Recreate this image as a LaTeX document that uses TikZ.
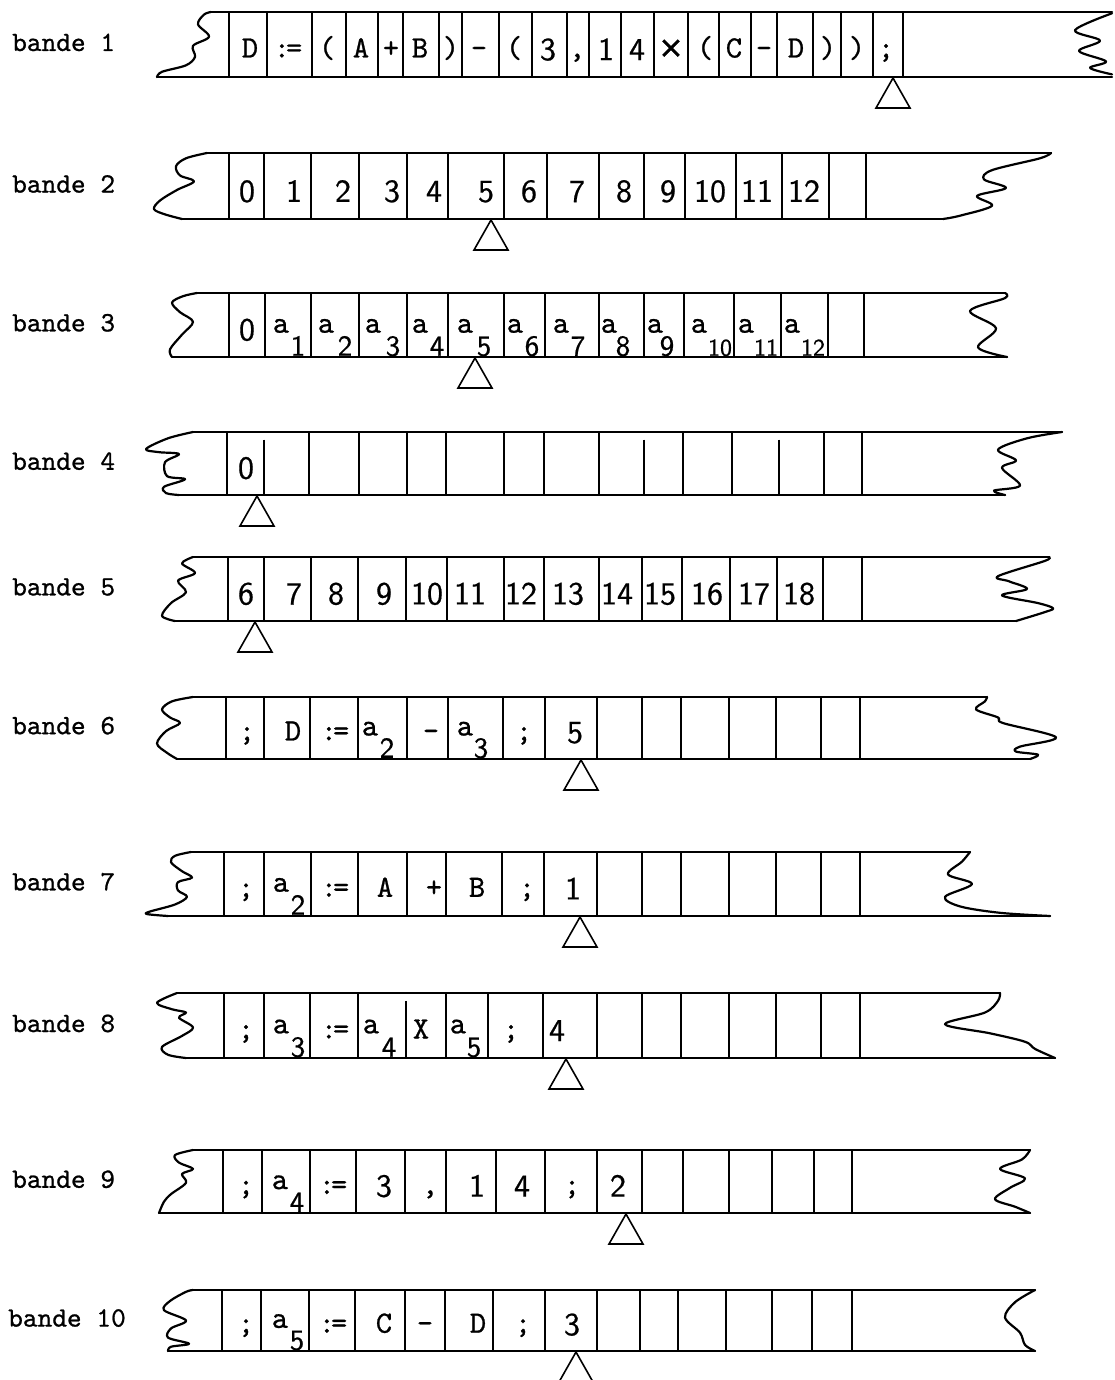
\documentclass[tikz,border=0pt]{standalone}
\usepackage{fontspec}
\setmonofont{lmmono10-regular.otf}[FakeBold=0.8]
\setsansfont{lmsans10-regular.otf}[FakeBold=0.6]
\newfontfamily\crossfont{DejaVu Sans}[FakeBold=1.5]
\newcommand\assign{:\kern-4pt=}
\tikzset{
  tapeline/.style={line width=2.2pt, line cap=round, line join=round},
  cellline/.style={line width=1.7pt},
  ptr/.style={line width=1.6pt, line join=miter},
  lbl/.style={anchor=base west, font=\ttfamily\fontsize{28}{30}\selectfont, inner sep=0pt},
  tt/.style={anchor=base, font=\ttfamily\fontsize{31}{33}\selectfont, inner sep=0pt},
  sf/.style={anchor=base, font=\sffamily\fontsize{32}{34}\selectfont, inner sep=0pt},
  sub/.style={anchor=base, font=\sffamily\fontsize{29}{31}\selectfont, inner sep=0pt},
  subtwo/.style={anchor=base, font=\sffamily\fontsize{24}{26}\selectfont, inner sep=0pt},
}
% tape outline: top start, top end, bottom start, bottom end, left wave, right wave
\newcommand\tapeband[6]{%
  \draw[tapeline] (#1,0) -- (#2,0);
  \draw[tapeline] (#3,1) -- (#4,1);
  \draw[tapeline] plot[smooth, tension=0.55] coordinates {#5};
  \draw[tapeline] plot[smooth, tension=0.55] coordinates {#6};
}
\newcommand\celllines[1]{\foreach \cx in {#1} \draw[cellline] (\cx,0) -- (\cx,1);}
\newcommand\partlines[1]{\foreach \cx in {#1} \draw[cellline] (\cx,0.12) -- (\cx,1);}
\newcommand\ttitems[2]{\foreach \x/\t [count=\i] in {#2} \node[tt] (#1t\i) at (\x,0.7) {\t};}
\newcommand\sfitems[2]{\foreach \x/\t [count=\i] in {#2} \node[sf] (#1d\i) at (\x,0.74) {\t};}
\newcommand\aitems[2]{\foreach \xa/\xs/\n [count=\i] in {#2} {%
  \node[tt] (#1a\i) at (\xa,0.62) {a};
  \node[sub] (#1s\i) at (\xs,0.98) {\n};}}
\newcommand\aitemstwo[2]{\foreach \xa/\xs/\n [count=\i] in {#2} {%
  \node[tt] (#1aa\i) at (\xa,0.62) {a};
  \node[subtwo] (#1ss\i) at (\xs,0.98) {\n};}}
\newcommand\pointer[2]{\draw[ptr] (#1,#2) -- ++(-17,30) -- ++(34,0) -- cycle;}
\begin{document}
\begin{tikzpicture}[x=1pt,y=-1pt]
\useasboundingbox (0,0) rectangle (1114,1380);
\fill[white] (0,0) rectangle (1114,1380);
\clip (0,0) rectangle (1114,1380);

% ---------------- bande 1
\begin{scope}[shift={(0,12)}, y=-65pt]
  \node[lbl] (lab1) at (12,0.6) {bande 1};
  \tapeband{211}{1112}{157}{1112}
    {(211,0) (204,0.04) (198,0.19) (209,0.38) (193,0.52) (195,0.69) (186,0.82) (162,0.92) (157,1)}
    {(1112,0.02) (1075,0.28) (1100,0.44) (1079,0.6) (1106,0.76) (1090,0.86) (1112,0.96)}
  \celllines{229,267,312,346,378,403,439,462,499,532,567,589,621,654,688,719,751,777,813,841,873,903}
  \ttitems{b1}{250/D,288/\assign,327/(,361/A,391/+,420/B,451/),479/-,514/(,577/{,},705/(,734/C,764/-,796/D,828/),857/),886/;}
  \node[anchor=base, inner sep=0pt, font=\crossfont\fontsize{30}{30}\selectfont] (b1x) at (671,0.7) {×};
  \sfitems{b1}{548/3,606/1,637/4}
\end{scope}
\pointer{893}{78}

% ---------------- bande 2
\begin{scope}[shift={(0,153)}, y=-66pt]
  \node[lbl] (lab2) at (12,0.6) {bande 2};
  \tapeband{207}{1051}{182}{943}
    {(207,0) (186,0.08) (176,0.2) (180,0.34) (194,0.43) (177,0.56) (160,0.72) (154,0.85) (165,0.93) (182,1)}
    {(1051,0) (1040,0.08) (992,0.26) (984,0.4) (1006,0.53) (977,0.65) (992,0.8) (960,0.95) (943,1)}
  \celllines{229,264,311,359,407,448,504,547,599,644,685,736,782,829,866}
  \sfitems{b2}{247/0,294/1,343/2,392/3,434/4,486/5,529/6,577/7,624/8,668/9,710/10,757/11,804/12}
\end{scope}
\pointer{491}{220}

% ---------------- bande 3
\begin{scope}[shift={(0,293)}, y=-64pt]
  \node[lbl] (lab3) at (12,0.6) {bande 3};
  \tapeband{197}{1005}{172}{1007}
    {(197,0) (183,0.05) (172,0.15) (180,0.3) (193,0.45) (182,0.65) (170,0.88) (172,1)}
    {(1005,0) (1005,0.08) (970,0.28) (996,0.55) (978,0.85) (1007,1)}
  \celllines{229,265,311,359,407,448,504,545,599,644,684,734,781,828,864}
  \sfitems{b3}{247/0}
  \aitems{b3}{281/298/1,326/345/2,373/393/3,420/437/4,465/484/5,515/532/6,561/578/7,609/623/8,655/667/9}
  \aitemstwo{b3}{699/720/10,746/766/11,792/813/12}
\end{scope}
\pointer{475}{358}

% ---------------- bande 4
\begin{scope}[shift={(0,432)}, y=-63pt]
  \node[lbl] (lab4) at (12,0.6) {bande 4};
  \tapeband{193}{1062}{179}{1005}
    {(193,0) (168,0.1) (146,0.27) (159,0.32) (179,0.35) (165,0.48) (167,0.7) (185,0.75) (164,0.87) (166,0.97) (179,1)}
    {(1062,0) (1027,0.1) (998,0.28) (1016,0.45) (1002,0.57) (1020,0.85) (994,0.93) (1005,1)}
  \celllines{227,309,359,407,446,504,544,599,683,732,824,862}
  \partlines{264,644,779}
  \sfitems{b4}{246/0}
\end{scope}
\pointer{257}{496}

% ---------------- bande 5
\begin{scope}[shift={(0,557)}, y=-64pt]
  \node[lbl] (lab5) at (12,0.6) {bande 5};
  \tapeband{193}{1049}{175}{1016}
    {(193,0) (182,0.1) (195,0.25) (178,0.37) (186,0.55) (171,0.72) (162,0.92) (175,1)}
    {(1049,0) (1045,0.06) (998,0.3) (1009,0.38) (1027,0.5) (1002,0.6) (1038,0.72) (1053,0.8) (1045,0.86) (1016,1)}
  \celllines{228,264,311,358,406,447,504,544,599,642,682,730,777,823,862}
  \sfitems{b5}{246/6,294/7,336/8,384/9,427/10,470/11,521/12,568/13,617/14,660/15,707/16,754/17,799/18}
\end{scope}
\pointer{255}{622}

% ---------------- bande 6
\begin{scope}[shift={(0,697)}, y=-62pt]
  \node[lbl] (lab6) at (12,0.6) {bande 6};
  \tapeband{193}{987}{177}{1030}
    {(193,0) (172,0.07) (162,0.2) (170,0.33) (180,0.42) (166,0.55) (157,0.75) (167,0.9) (177,1)}
    {(987,0) (985,0.07) (976,0.2) (998,0.33) (1003,0.42) (1056,0.65) (1020,0.8) (1016,0.88) (1038,0.93) (1030,1)}
  \celllines{226,264,310,358,407,448,503,545,597,642,681,729,776,821,860}
  \ttitems{b6}{247/;,293/D,335/\assign,431/-,524/;}
  \sfitems{b6}{575/5}
  \aitems{b6}{370/387/2,465/481/3}
\end{scope}
\pointer{581}{760}

% ---------------- bande 7
\begin{scope}[shift={(0,852)}, y=-64pt]
  \node[lbl] (lab7) at (12,0.6) {bande 7};
  \tapeband{191}{970}{168}{1050}
    {(191,0) (175,0.06) (171,0.16) (182,0.3) (192,0.4) (178,0.47) (178,0.6) (187,0.7) (175,0.82) (150,0.93) (147,0.97) (168,1)}
    {(970,0) (962,0.15) (948,0.35) (972,0.5) (945,0.7) (960,0.85) (1000,0.95) (1050,1)}
  \celllines{224,264,311,358,407,446,502,544,597,642,681,729,776,821,860}
  \ttitems{b7}{246/;,335/\assign,385/A,434/+,477/B,527/;}
  \sfitems{b7}{573/1}
  \aitems{b7}{281/298/2}
\end{scope}
\pointer{580}{917}

% ---------------- bande 8
\begin{scope}[shift={(0,993)}, y=-65pt]
  \node[lbl] (lab8) at (12,0.6) {bande 8};
  \tapeband{177}{1000}{186}{1055}
    {(177,0) (157,0.15) (172,0.25) (186,0.3) (179,0.38) (193,0.53) (182,0.66) (162,0.83) (168,0.95) (186,1)}
    {(1000,0) (998,0.12) (985,0.3) (945,0.48) (990,0.62) (1025,0.75) (1035,0.86) (1055,1)}
  \celllines{224,264,310,358,446,488,543,597,642,681,729,776,821,860}
  \partlines{406}
  \ttitems{b8}{246/;,335/\assign,421/X,511/;}
  \sfitems{b8}{557/4}
  \aitems{b8}{281/298/3,371/389/4,458/474/5}
\end{scope}
\pointer{566}{1059}

% ---------------- bande 9
\begin{scope}[shift={(0,1150)}, y=-63pt]
  \node[lbl] (lab9) at (12,0.6) {bande 9};
  \tapeband{193}{1030}{159}{1030}
    {(193,0) (175,0.08) (179,0.2) (193,0.3) (182,0.38) (186,0.52) (171,0.7) (164,0.82) (159,1)}
    {(1030,0) (1022,0.15) (1000,0.3) (1025,0.45) (1010,0.6) (995,0.78) (1015,0.9) (1030,1)}
  \celllines{223,262,310,356,405,446,496,545,597,642,683,729,772,814,852}
  \ttitems{b9}{246/;,333/\assign,430/{,},572/;}
  \sfitems{b9}{384/3,477/1,522/4,618/2}
  \aitems{b9}{280/297/4}
\end{scope}
\pointer{626}{1214}

% ---------------- bande 10
\begin{scope}[shift={(0,1290)}, y=-61pt]
  \node[lbl] (lab10) at (8,0.6) {bande 10};
  \tapeband{193}{1035}{168}{1035}
    {(193,0) (186,0.03) (170,0.18) (164,0.33) (186,0.5) (171,0.63) (168,0.78) (189,0.88) (171,0.93) (168,1)}
    {(1035,0) (1015,0.2) (1005,0.45) (1020,0.7) (1025,0.9) (1035,1)}
  \celllines{222,261,309,355,405,445,493,545,597,640,678,726,772,812,852}
  \ttitems{b10}{246/;,333/\assign,384/C,425/-,478/D,523/;}
  \sfitems{b10}{572/3}
  \aitems{b10}{280/297/5}
\end{scope}
\pointer{576}{1352}
\end{tikzpicture}
\end{document}
